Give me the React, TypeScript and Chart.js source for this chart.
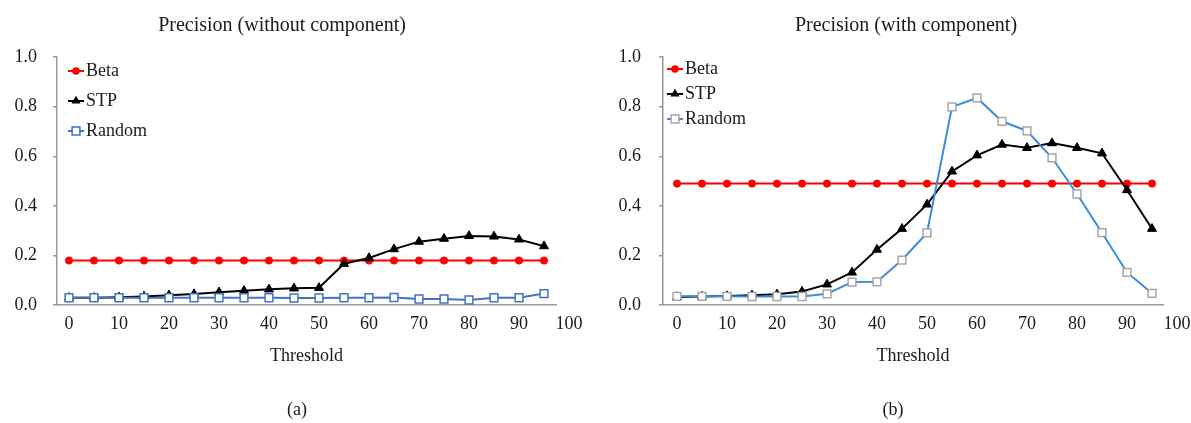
import React, { useEffect, useRef } from "react";
import { Chart, registerables } from "chart.js";

Chart.register(...registerables);

// ---------- data ----------
const thresholds = [0, 5, 10, 15, 20, 25, 30, 35, 40, 45, 50, 55, 60, 65, 70, 75, 80, 85, 90, 95];
const xTickLabels = [0, 10, 20, 30, 40, 50, 60, 70, 80, 90, 100];
const yTickLabels = [0, 0.2, 0.4, 0.6, 0.8, 1.0];
const seriesNames = ["Beta", "STP", "Random"];

const titleA = "Precision (without component)";
const titleB = "Precision (with component)";
const captionA = "(a)";
const captionB = "(b)";
const xTitle = "Threshold";

const betaA = [0.18, 0.18, 0.18, 0.18, 0.18, 0.18, 0.18, 0.18, 0.18, 0.18, 0.18, 0.18, 0.18, 0.18, 0.18, 0.18, 0.18, 0.18, 0.18, 0.18];
const stpA = [0.03, 0.03, 0.032, 0.035, 0.04, 0.045, 0.052, 0.058, 0.064, 0.068, 0.07, 0.167, 0.19, 0.226, 0.256, 0.268, 0.279, 0.277, 0.265, 0.238];
const randomA = [0.03, 0.03, 0.03, 0.03, 0.03, 0.03, 0.03, 0.03, 0.03, 0.029, 0.029, 0.03, 0.03, 0.031, 0.025, 0.025, 0.021, 0.03, 0.03, 0.047];

const betaB = [0.49, 0.49, 0.49, 0.49, 0.49, 0.49, 0.49, 0.49, 0.49, 0.49, 0.49, 0.49, 0.49, 0.49, 0.49, 0.49, 0.49, 0.49, 0.49, 0.49];
const stpB = [0.033, 0.035, 0.037, 0.04, 0.044, 0.055, 0.084, 0.132, 0.224, 0.308, 0.406, 0.539, 0.604, 0.647, 0.634, 0.653, 0.634, 0.612, 0.464, 0.308];
const randomB = [0.036, 0.036, 0.036, 0.035, 0.035, 0.035, 0.046, 0.093, 0.094, 0.182, 0.291, 0.799, 0.835, 0.741, 0.702, 0.594, 0.448, 0.292, 0.132, 0.048];

// ---------- styling ----------
const FONT = "'Liberation Serif', 'Times New Roman', serif";
const TEXT = "#1a1a1a";
const AXIS = "#9a9a9a";

type PanelCfg = {
  title: string;
  caption: string;
  beta: number[];
  stp: number[];
  random: number[];
  randomLine: string;
  randomMarker: string;
  width: number;
  yWidth: number;
  padRight: number;
  yLabelPad: number;
  xMin: number;
  xMax: number;
  titleCx: number;
  captionCx: number;
  legendLeft: number;
  legendTop: number;
  legendPad: number;
};

function makeSymbol(kind: string, lineColor: string, fill: string, stroke: string) {
  const w = 16, h = 14;
  const c = document.createElement("canvas");
  c.width = w;
  c.height = h;
  const ctx = c.getContext("2d")!;
  const cx = w / 2, cy = h / 2;
  ctx.strokeStyle = lineColor;
  ctx.lineWidth = 2;
  ctx.beginPath();
  ctx.moveTo(0, cy);
  ctx.lineTo(w, cy);
  ctx.stroke();
  ctx.beginPath();
  if (kind === "circle") {
    ctx.arc(cx, cy, 3.8, 0, Math.PI * 2);
    ctx.fillStyle = fill;
    ctx.fill();
  } else if (kind === "triangle") {
    const r = 5.2;
    ctx.moveTo(cx, cy - r);
    ctx.lineTo(cx + 0.866 * r, cy + 0.5 * r);
    ctx.lineTo(cx - 0.866 * r, cy + 0.5 * r);
    ctx.closePath();
    ctx.fillStyle = fill;
    ctx.fill();
  } else {
    const s = 3.9;
    ctx.rect(cx - s, cy - s, 2 * s, 2 * s);
    ctx.fillStyle = fill;
    ctx.fill();
    ctx.lineWidth = 1.5;
    ctx.strokeStyle = stroke;
    ctx.stroke();
  }
  return c;
}

function buildConfig(cfg: PanelCfg): any {
  const symbols = [
    makeSymbol("circle", "#ff0000", "#ff0000", "#ff0000"),
    makeSymbol("triangle", "#000000", "#000000", "#000000"),
    makeSymbol("rect", cfg.randomLine, "#ffffff", cfg.randomMarker),
  ];
  const toPts = (arr: number[]) => thresholds.map((x, i) => ({ x, y: arr[i] }));

  const placer = {
    id: "placer",
    afterLayout(chart: any) {
      const lg = chart.legend;
      if (lg) {
        lg.left = cfg.legendLeft;
        lg.top = cfg.legendTop;
        lg.right = lg.left + 220;
        lg.bottom = lg.top + 200;
      }
      const t = chart.titleBlock;
      if (t) {
        t.left = cfg.titleCx - 220;
        t.right = cfg.titleCx + 220;
      }
      const sub = chart.boxes.find((b: any) => b !== t && b.options && b.options.text === cfg.caption);
      if (sub) {
        sub.left = cfg.captionCx - 100;
        sub.right = cfg.captionCx + 100;
      }
    },
  };

  return {
    type: "line",
    data: {
      datasets: [
        {
          label: seriesNames[0],
          data: toPts(cfg.beta),
          borderColor: "#ff0000",
          backgroundColor: "#ff0000",
          pointBackgroundColor: "#ff0000",
          pointBorderColor: "#ff0000",
          pointStyle: "circle",
          pointRadius: 3.6,
          pointBorderWidth: 1,
          borderWidth: 2,
          tension: 0,
          order: 3,
        },
        {
          label: seriesNames[1],
          data: toPts(cfg.stp),
          borderColor: "#000000",
          backgroundColor: "#000000",
          pointBackgroundColor: "#000000",
          pointBorderColor: "#000000",
          pointStyle: "triangle",
          pointRadius: 5.2,
          pointBorderWidth: 1,
          borderWidth: 2,
          tension: 0,
          order: 2,
        },
        {
          label: seriesNames[2],
          data: toPts(cfg.random),
          borderColor: cfg.randomLine,
          backgroundColor: "#ffffff",
          pointBackgroundColor: "#ffffff",
          pointBorderColor: cfg.randomMarker,
          pointStyle: "rect",
          pointRadius: 5.5,
          pointBorderWidth: 1.5,
          borderWidth: 2,
          tension: 0,
          order: 1,
        },
      ],
    },
    options: {
      responsive: false,
      animation: false,
      devicePixelRatio: 1,
      events: [],
      layout: { padding: { left: 0, right: cfg.padRight, top: 0, bottom: 0 } },
      plugins: {
        tooltip: { enabled: false },
        title: {
          display: true,
          text: cfg.title,
          color: TEXT,
          font: { family: FONT, size: 20, weight: "normal", lineHeight: 1.2 },
          padding: { top: 14, bottom: 19 },
        },
        subtitle: {
          display: true,
          position: "bottom",
          text: cfg.caption,
          color: TEXT,
          font: { family: FONT, size: 18, weight: "normal", lineHeight: 1.2 },
          padding: { top: 32, bottom: 2 },
        },
        legend: {
          display: true,
          position: "chartArea",
          align: "start",
          labels: {
            usePointStyle: true,
            pointStyleWidth: 2,
            boxHeight: 18,
            padding: cfg.legendPad,
            color: TEXT,
            font: { family: FONT, size: 18, weight: "normal" },
            generateLabels: (chart: any) => {
              const items = (Chart.defaults as any).plugins.legend.labels.generateLabels(chart);
              items.sort((a: any, b: any) => a.datasetIndex - b.datasetIndex);
              return items.map((it: any) => ({
                ...it,
                pointStyle: symbols[it.datasetIndex],
                fontColor: TEXT,
                lineWidth: 0,
              }));
            },
          },
        },
      },
      scales: {
        x: {
          type: "linear",
          min: cfg.xMin,
          max: cfg.xMax,
          bounds: "data",
          afterBuildTicks: (scale: any) => {
            scale.ticks = xTickLabels.map((v) => ({ value: v }));
          },
          afterFit: (scale: any) => {
            scale.paddingLeft = 0;
            scale.paddingRight = 0;
          },
          grid: { display: false, drawTicks: false },
          border: { display: true, color: AXIS, width: 1.5 },
          ticks: {
            autoSkip: false,
            maxRotation: 0,
            minRotation: 0,
            padding: 8,
            color: TEXT,
            font: { family: FONT, size: 18, lineHeight: 1.2 },
            callback: (v: any) => String(v),
          },
          title: {
            display: true,
            text: xTitle,
            color: TEXT,
            font: { family: FONT, size: 18, lineHeight: 1.2 },
            padding: { top: 3, bottom: 0 },
          },
        },
        y: {
          type: "linear",
          min: 0,
          max: 1,
          bounds: "data",
          afterBuildTicks: (scale: any) => {
            scale.ticks = yTickLabels.map((v) => ({ value: v }));
          },
          afterFit: (scale: any) => {
            scale.width = cfg.yWidth;
          },
          grid: {
            display: true,
            drawOnChartArea: false,
            drawTicks: true,
            tickLength: 4,
            color: AXIS,
            lineWidth: 1.5,
          },
          border: { display: true, color: AXIS, width: 1.5 },
          ticks: {
            padding: cfg.yLabelPad,
            color: TEXT,
            font: { family: FONT, size: 18, lineHeight: 1.2 },
            callback: (v: any) => Number(v).toFixed(1),
          },
        },
      },
    },
    plugins: [placer],
  };
}

const panelA: PanelCfg = {
  title: titleA,
  caption: captionA,
  beta: betaA,
  stp: stpA,
  random: randomA,
  randomLine: "#4472c4",
  randomMarker: "#4472c4",
  width: 595,
  yWidth: 57,
  padRight: 39,
  yLabelPad: 16,
  xMin: -2.4,
  xMax: 97.4,
  titleCx: 282,
  captionCx: 297,
  legendLeft: 63,
  legendTop: 50,
  legendPad: 12,
};

const panelB: PanelCfg = {
  title: titleB,
  caption: captionB,
  beta: betaB,
  stp: stpB,
  random: randomB,
  randomLine: "#3a8ddb",
  randomMarker: "#a6a6a6",
  width: 596,
  yWidth: 68,
  padRight: 28,
  yLabelPad: 18,
  xMin: -2.8,
  xMax: 97.2,
  titleCx: 311,
  captionCx: 298,
  legendLeft: 72,
  legendTop: 53,
  legendPad: 7,
};

function Panel({ cfg, left }: { cfg: PanelCfg; left: number }) {
  const ref = useRef<HTMLCanvasElement>(null);
  useEffect(() => {
    const chart = new Chart(ref.current as HTMLCanvasElement, buildConfig(cfg));
    return () => chart.destroy();
  }, [cfg]);
  return (
    <canvas
      ref={ref}
      width={cfg.width}
      height={423}
      style={{ position: "absolute", left, top: 0, width: cfg.width, height: 423 }}
    />
  );
}

export default function App() {
  return (
    <div style={{ position: "absolute", left: 0, top: 0, width: 1191, height: 423, background: "#ffffff", overflow: "hidden" }}>
      <Panel cfg={panelA} left={0} />
      <Panel cfg={panelB} left={595} />
    </div>
  );
}
